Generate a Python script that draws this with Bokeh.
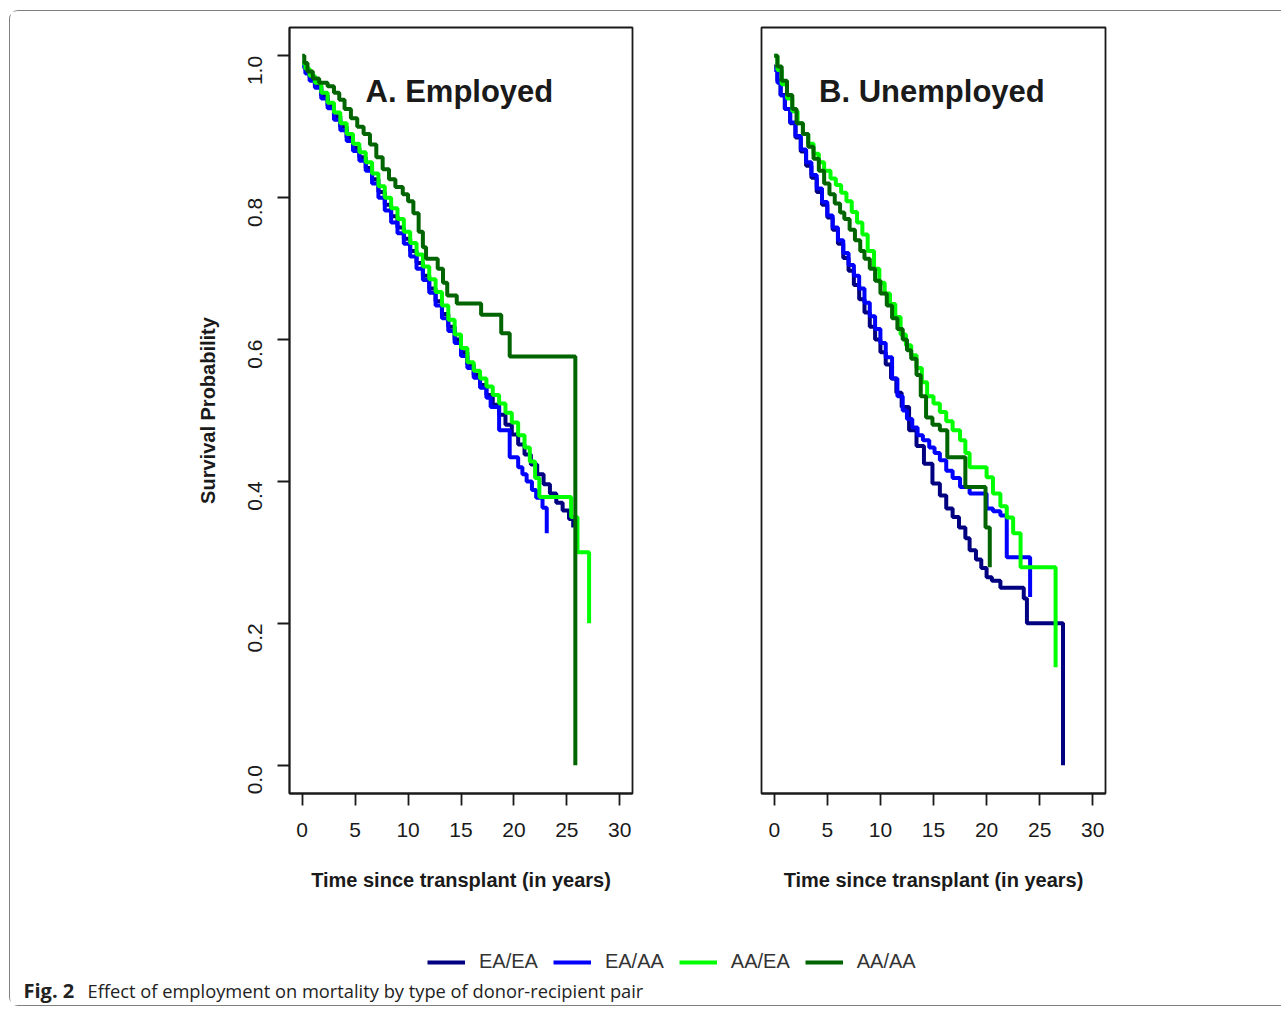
import math
from bokeh.plotting import figure
from bokeh.layouts import column, row
from bokeh.models import Range1d, FixedTicker, PrintfTickFormatter, Label, Legend, LegendItem
from bokeh.embed import file_html
from bokeh.resources import INLINE

# ---------------- data ----------------
series_names = ["EA/EA", "EA/AA", "AA/EA", "AA/AA"]
series_colors = ["#000080", "#0000FF", "#00FF00", "#006400"]
x_ticks = [0, 5, 10, 15, 20, 25, 30]
y_ticks = [0.0, 0.2, 0.4, 0.6, 0.8, 1.0]

# Panel A: Employed
a_eaea_t = [0, 0.3, 0.7, 1.2, 1.8, 2.4, 3.0, 3.6, 4.2, 4.8, 5.4, 6.0, 6.6, 7.2, 7.8, 8.4, 9.0, 9.6, 10.2, 10.8,
            11.4, 12.0, 12.6, 13.2, 13.8, 14.4, 15.0, 15.6, 16.2, 16.8, 17.4, 18.0, 18.6, 19.2, 19.8, 20.4, 21.0,
            21.6, 22.2, 22.8, 23.4, 24.0, 24.6, 25.2, 25.6]
a_eaea_s = [0.99, 0.98, 0.97, 0.958, 0.944, 0.93, 0.915, 0.90, 0.885, 0.87, 0.857, 0.842, 0.826, 0.808, 0.79,
            0.774, 0.758, 0.742, 0.725, 0.708, 0.69, 0.672, 0.654, 0.636, 0.618, 0.60, 0.582, 0.565, 0.55, 0.536,
            0.522, 0.508, 0.494, 0.48, 0.466, 0.452, 0.438, 0.424, 0.41, 0.396, 0.383, 0.37, 0.359, 0.347, 0.335]

a_eaaa_t = [0, 0.3, 0.7, 1.2, 1.8, 2.4, 3.0, 3.6, 4.2, 4.8, 5.4, 6.0, 6.6, 7.2, 7.8, 8.4, 9.0, 9.6, 10.2, 10.8,
            11.4, 12.0, 12.6, 13.2, 13.8, 14.4, 15.0, 15.6, 16.2, 16.8, 17.4, 17.8, 18.6, 19.6, 20.4, 20.8, 21.2,
            21.7, 22.1, 22.7, 23.1]
a_eaaa_s = [0.985, 0.975, 0.965, 0.955, 0.94, 0.926, 0.91, 0.895, 0.88, 0.866, 0.852, 0.838, 0.82, 0.80, 0.782,
            0.765, 0.75, 0.735, 0.717, 0.70, 0.684, 0.666, 0.648, 0.63, 0.612, 0.595, 0.577, 0.56, 0.546, 0.532,
            0.518, 0.505, 0.472, 0.434, 0.42, 0.41, 0.40, 0.388, 0.377, 0.363, 0.327]

a_aaea_t = [0, 0.3, 0.7, 1.2, 1.8, 2.4, 3.0, 3.6, 4.2, 4.8, 5.4, 6.0, 6.6, 7.2, 7.8, 8.4, 9.0, 9.6, 10.2, 10.8,
            11.4, 12.0, 12.6, 13.2, 13.8, 14.4, 15.0, 15.6, 16.2, 16.8, 17.4, 18.0, 18.6, 19.2, 19.8, 20.4, 21.0,
            21.5, 22.0, 22.4, 25.4, 26.0, 27.1]
a_aaea_s = [0.99, 0.982, 0.972, 0.962, 0.948, 0.934, 0.92, 0.905, 0.89, 0.876, 0.864, 0.85, 0.834, 0.816, 0.80,
            0.785, 0.77, 0.752, 0.736, 0.72, 0.703, 0.685, 0.667, 0.648, 0.628, 0.607, 0.588, 0.568, 0.556, 0.545,
            0.534, 0.522, 0.51, 0.497, 0.483, 0.465, 0.448, 0.428, 0.405, 0.378, 0.35, 0.30, 0.20]

a_aaaa_t = [0, 0.2, 0.5, 1.0, 1.6, 2.4, 3.0, 3.5, 4.0, 4.6, 5.2, 5.8, 6.4, 7.0, 7.6, 8.2, 8.8, 9.5, 10.0, 10.5,
            11.0, 11.4, 11.7, 12.8, 13.3, 13.7, 14.6, 16.9, 18.8, 19.6, 25.8]
a_aaaa_s = [1.0, 0.99, 0.978, 0.968, 0.962, 0.957, 0.948, 0.938, 0.925, 0.912, 0.90, 0.89, 0.875, 0.857, 0.84,
            0.826, 0.815, 0.805, 0.795, 0.778, 0.752, 0.73, 0.714, 0.70, 0.68, 0.662, 0.651, 0.635, 0.609, 0.576, 0.0]

# Panel B: Unemployed
b_eaea_t = [0, 0.3, 0.6, 1.0, 1.5, 2.0, 2.5, 3.0, 3.5, 4.0, 4.5, 5.0, 5.5, 6.0, 6.5, 7.0, 7.5, 8.0, 8.5, 9.0,
            9.5, 10.0, 10.5, 11.0, 11.5, 12.0, 12.7, 13.4, 14.1, 14.9, 15.6, 16.2, 16.8, 17.4, 18.0, 18.4, 19.0,
            19.5, 20.0, 20.5, 21.3, 23.5, 23.8, 27.2]
b_eaea_s = [0.985, 0.965, 0.945, 0.925, 0.905, 0.885, 0.865, 0.845, 0.828, 0.808, 0.79, 0.772, 0.755, 0.735,
            0.715, 0.697, 0.677, 0.657, 0.638, 0.618, 0.60, 0.582, 0.565, 0.545, 0.525, 0.505, 0.472, 0.45, 0.425,
            0.397, 0.38, 0.362, 0.35, 0.335, 0.32, 0.303, 0.29, 0.278, 0.265, 0.26, 0.25, 0.235, 0.20, 0.0]

b_eaaa_t = [0, 0.3, 0.6, 1.0, 1.5, 2.0, 2.5, 3.0, 3.5, 4.0, 4.5, 5.0, 5.5, 6.0, 6.5, 7.0, 7.5, 8.0, 8.5, 9.0,
            9.5, 10.0, 10.5, 11.1, 11.6, 12.1, 12.5, 13.0, 13.5, 14.0, 14.6, 15.1, 15.6, 16.2, 16.8, 17.5, 18.4,
            20.0, 20.6, 21.3, 21.9, 24.1]
b_eaaa_s = [0.98, 0.962, 0.944, 0.925, 0.906, 0.887, 0.868, 0.85, 0.832, 0.813, 0.794, 0.775, 0.758, 0.74, 0.722,
            0.705, 0.69, 0.672, 0.652, 0.633, 0.615, 0.595, 0.575, 0.545, 0.52, 0.50, 0.488, 0.476, 0.465, 0.458,
            0.448, 0.44, 0.43, 0.415, 0.405, 0.392, 0.383, 0.362, 0.358, 0.352, 0.293, 0.237]

b_aaea_t = [0, 0.3, 0.7, 1.2, 1.7, 2.2, 2.7, 3.2, 3.7, 4.2, 4.7, 5.3, 5.8, 6.3, 6.8, 7.3, 7.8, 8.3, 8.8, 9.4,
            9.9, 10.4, 10.9, 11.4, 11.9, 12.4, 12.9, 13.4, 13.9, 14.4, 15.0, 15.6, 16.2, 16.8, 17.5, 18.0, 18.4,
            20.0, 20.6, 21.3, 21.9, 22.5, 23.2, 26.5]
b_aaea_s = [1.0, 0.98, 0.96, 0.94, 0.922, 0.905, 0.89, 0.876, 0.862, 0.85, 0.838, 0.827, 0.818, 0.807, 0.795,
            0.78, 0.765, 0.748, 0.725, 0.70, 0.68, 0.665, 0.65, 0.632, 0.607, 0.592, 0.578, 0.56, 0.54, 0.52,
            0.51, 0.498, 0.485, 0.472, 0.458, 0.44, 0.42, 0.406, 0.383, 0.365, 0.349, 0.327, 0.279, 0.138]

b_aaaa_t = [0, 0.3, 0.7, 1.2, 1.7, 2.1, 2.7, 3.2, 3.7, 4.2, 4.7, 5.2, 5.7, 6.2, 6.6, 7.1, 7.6, 8.1, 8.5, 9.0,
            9.5, 10.0, 10.6, 11.1, 11.6, 12.1, 12.5, 12.9, 13.4, 13.8, 14.3, 14.9, 15.6, 16.3, 18.0, 19.9, 20.3]
b_aaaa_s = [1.0, 0.985, 0.965, 0.945, 0.925, 0.905, 0.89, 0.872, 0.855, 0.838, 0.82, 0.805, 0.792, 0.779, 0.77,
            0.755, 0.74, 0.725, 0.714, 0.70, 0.683, 0.665, 0.648, 0.63, 0.615, 0.60, 0.585, 0.573, 0.55, 0.52,
            0.49, 0.48, 0.472, 0.434, 0.392, 0.335, 0.279]

panel_a = [(a_eaea_t, a_eaea_s), (a_eaaa_t, a_eaaa_s), (a_aaea_t, a_aaea_s), (a_aaaa_t, a_aaaa_s)]
panel_b = [(b_eaea_t, b_eaea_s), (b_eaaa_t, b_eaaa_s), (b_aaea_t, b_aaea_s), (b_aaaa_t, b_aaaa_s)]

AX_FONT = "Liberation Sans"
INK = "#1a1a1a"


def make_panel(curves, title, width, left, right, show_y):
    p = figure(width=width, height=919, output_backend="svg", toolbar_location=None,
               x_range=Range1d(-1.2, 31.2), y_range=Range1d(-0.04, 1.04),
               min_border_left=left, min_border_right=right, min_border_top=16, min_border_bottom=137,
               y_axis_location="left" if show_y else None)
    p.xgrid.visible = False
    p.ygrid.visible = False
    p.outline_line_color = INK
    p.outline_line_width = 1.8
    p.background_fill_color = "white"
    p.border_fill_color = "white"
    axes = [p.xaxis[0]] + ([p.yaxis[0]] if show_y else [])
    for ax in axes:
        ax.axis_line_color = INK
        ax.axis_line_width = 1.8
        ax.major_tick_line_color = INK
        ax.major_tick_line_width = 1.8
        ax.major_tick_out = 12
        ax.major_tick_in = 0
        ax.minor_tick_line_color = None
        ax.major_label_text_font = AX_FONT
        ax.major_label_text_font_size = "21px"
        ax.major_label_text_color = INK
        ax.axis_label_text_font = AX_FONT
        ax.axis_label_text_font_style = "bold"
        ax.axis_label_text_font_size = "20px"
        ax.axis_label_text_color = INK
    p.xaxis[0].ticker = FixedTicker(ticks=x_ticks)
    p.xaxis[0].major_label_standoff = 17
    p.xaxis[0].axis_label = "Time since transplant (in years)"
    p.xaxis[0].axis_label_standoff = 29
    if show_y:
        p.yaxis[0].ticker = FixedTicker(ticks=y_ticks)
        p.yaxis[0].formatter = PrintfTickFormatter(format="%.1f")
        p.yaxis[0].major_label_orientation = math.pi / 2
        p.yaxis[0].major_label_standoff = 22
        p.yaxis[0].axis_label = "Survival Probability"
        p.yaxis[0].axis_label_standoff = 20
    for (t, s), c in zip(curves, series_colors):
        p.step(t, s, mode="after", line_color=c, line_width=4)
    p.add_layout(Label(x=14.85, y=0.95, text=title, text_align="center", text_baseline="middle",
                       text_font="Liberation Sans", text_font_style="bold", text_font_size="31px",
                       text_color=INK))
    return p


pA = make_panel(panel_a, "A. Employed", 689, 279, 67, True)
pB = make_panel(panel_b, "B. Unemployed", 582, 62, 176, False)

# bottom strip: legend + caption
pC = figure(width=1271, height=75, output_backend="svg", toolbar_location=None,
            x_range=Range1d(0, 1), y_range=Range1d(0, 1),
            x_axis_location=None, y_axis_location=None,
            min_border_left=0, min_border_right=0, min_border_top=0, min_border_bottom=0)
pC.xgrid.visible = False
pC.ygrid.visible = False
pC.outline_line_color = None
items = []
for name, c in zip(series_names, series_colors):
    r = pC.line(x=[-5, -4], y=[-5, -5], line_color=c, line_width=4)
    items.append(LegendItem(label=name, renderers=[r]))
leg = Legend(items=items, orientation="horizontal", location=(417, 32),
             glyph_width=38, glyph_height=20, label_standoff=14, spacing=15,
             padding=0, margin=0, border_line_color=None, background_fill_alpha=0,
             label_text_font=AX_FONT, label_text_font_size="20px", label_text_color="#333333")
pC.add_layout(leg)
pC.add_layout(Label(x=13, y=15, x_units="screen", y_units="screen", text="Fig. 2",
                    text_baseline="middle", text_font="Open Sans", text_font_style="bold",
                    text_font_size="20px", text_color="#222222"))
pC.add_layout(Label(x=77, y=15, x_units="screen", y_units="screen",
                    text="Effect of employment on mortality by type of donor-recipient pair",
                    text_baseline="middle", text_font="Open Sans",
                    text_font_size="18.3px", text_color="#222222"))

layout = column(row(pA, pB), pC,
                styles={"border-left": "1.5px solid #808080", "border-top": "1.5px solid #808080",
                        "border-bottom": "1.5px solid #808080", "border-radius": "9px 0 0 9px",
                        "margin-left": "9px", "margin-top": "10px"})

open("out.html", "w").write(file_html(layout, INLINE))
